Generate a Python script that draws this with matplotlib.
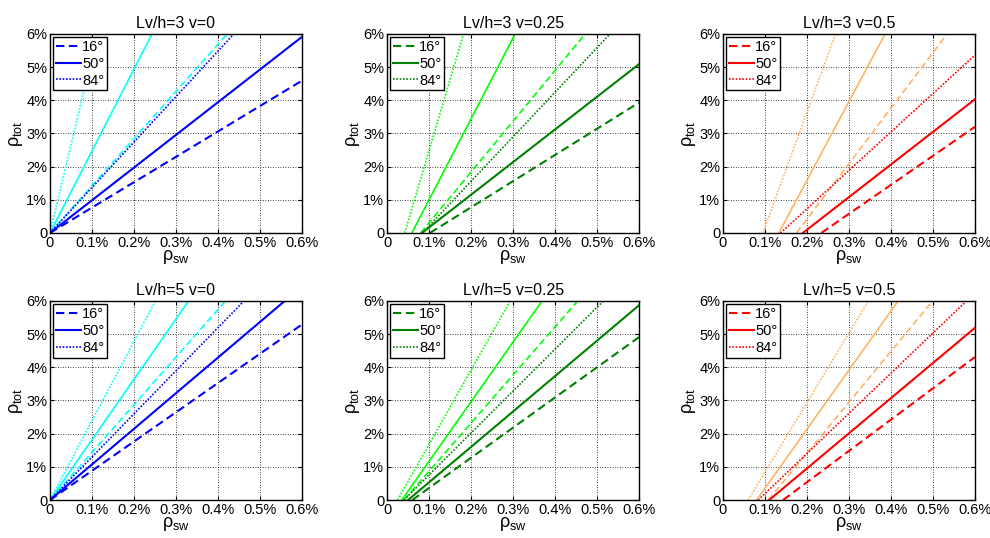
import numpy as np
import matplotlib.pyplot as plt

plt.rcParams['font.family'] = ['Liberation Sans', 'DejaVu Sans']
plt.rcParams['mathtext.fontset'] = 'custom'
plt.rcParams['mathtext.rm'] = 'Liberation Sans'
plt.rcParams['mathtext.it'] = 'Liberation Sans'

titles = ['Lv/h=3 v=0', 'Lv/h=3 v=0.25', 'Lv/h=3 v=0.5',
          'Lv/h=5 v=0', 'Lv/h=5 v=0.25', 'Lv/h=5 v=0.5']
angles = ['16°', '50°', '84°']

# rho_sw (%) where each line leaves zero, order 16, 50, 84 deg
start_dark = [[0, 0, 0], [0.102, 0.083, 0.084], [0.234, 0.190, 0.137],
              [0, 0, 0], [0.060, 0.050, 0.040], [0.143, 0.110, 0.084]]
start_light = [[0, 0, 0], [0.080, 0.059, 0.042], [0.175, 0.133, 0.095],
               [0, 0, 0], [0.040, 0.035, 0.025], [0.108, 0.080, 0.060]]
# a later point on each line (rho_sw %, rho_tot %)
end_dark_x = [[0.6, 0.6, 0.438], [0.6, 0.6, 0.531], [0.6, 0.6, 0.6],
              [0.6, 0.559, 0.462], [0.6, 0.6, 0.515], [0.6, 0.6, 0.580]]
end_dark_y = [[4.59, 5.91, 6], [3.93, 5.09, 6], [3.20, 4.03, 5.36],
              [5.29, 6, 6], [4.91, 5.87, 6], [4.31, 5.19, 6]]
end_light_x = [[0.422, 0.243, 0.113], [0.472, 0.305, 0.182], [0.534, 0.386, 0.268],
               [0.418, 0.330, 0.251], [0.454, 0.369, 0.293], [0.499, 0.417, 0.346]]
end_light_y = [[6, 6, 6]] * 6

dark_colors = ['#0000ff', '#008000', '#ff0000']
light_colors = ['#00ffff', '#00ff00', '#ffb266']
dash_styles = [(0, (4, 2.2)), '-', (0, (1, 1))]

fig = plt.figure(figsize=(9.9, 5.38), dpi=100)
lefts = [0.0505, 0.391, 0.7303]
bottoms = [0.567, 0.0706]

for k in range(6):
    row, col = divmod(k, 3)
    ax = fig.add_axes([lefts[col], bottoms[row], 0.2545, 0.370])
    handles = []
    for j in range(3):
        ax.plot([start_light[k][j], end_light_x[k][j]], [0, end_light_y[k][j]],
                color=light_colors[col], linestyle=dash_styles[j], lw=1.2)
    for j in range(3):
        h, = ax.plot([start_dark[k][j], end_dark_x[k][j]], [0, end_dark_y[k][j]],
                     color=dark_colors[col], linestyle=dash_styles[j],
                     lw=1.2 if j == 2 else 1.5)
        handles.append(h)

    ax.set_xlim(0, 0.6)
    ax.set_ylim(0, 6)
    ax.set_xticks(np.arange(0, 0.61, 0.1))
    ax.set_xticklabels(['0'] + ['%.1f%%' % v for v in np.arange(0.1, 0.61, 0.1)])
    ax.set_yticks(np.arange(0, 7, 1))
    ax.set_yticklabels(['0'] + ['%d%%' % v for v in range(1, 7)])
    ax.tick_params(direction='in', length=3, top=True, right=True,
                   labelsize=10.5, pad=2)
    ax.grid(True, color='black', linestyle=(0, (1, 2)), linewidth=0.6)
    for s in ax.spines.values():
        s.set_linewidth(1.0)
    ax.set_title(titles[k], fontsize=11.5, pad=4)
    ax.set_xlabel('ρ$_{\\mathrm{sw}}$', fontsize=13, labelpad=-1)
    ax.set_ylabel('ρ$_{\\mathrm{tot}}$', fontsize=13, labelpad=1)
    leg = ax.legend(handles, angles, loc='upper left', fontsize=10.5,
                    handlelength=1.7, handletextpad=0.1, borderpad=0.2,
                    labelspacing=0.2, borderaxespad=0.2, fancybox=False,
                    framealpha=1)
    leg.get_frame().set_edgecolor('black')
    leg.get_frame().set_linewidth(1.0)

fig.savefig('out.png', dpi=100)
